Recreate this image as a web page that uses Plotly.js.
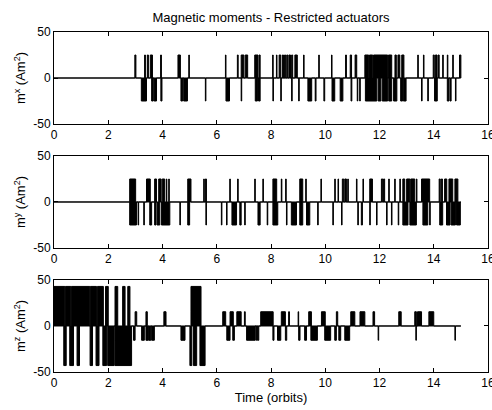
<!DOCTYPE html>
<html><head><meta charset="utf-8">
<script src="https://cdn.plot.ly/plotly-3.0.1.min.js"></script>
<style>html,body{margin:0;padding:0;background:#fff;} #chart{width:492px;height:410px;}</style>
</head><body><div id="chart"></div>
<script>
// Time span of the simulation (orbits)
const tEnd = 15;
const xTicks = [0, 2, 4, 6, 8, 10, 12, 14, 16];
const yTicks = [-50, 0, 50];

// Pulse levels (Am^2)
const mxLevel = 25;
const myLevel = 25;

// Pulses: [start (orbits), end (orbits)] at the +level / -level
const mxUp = [[2.98,3.02],[3.34,3.37],[3.44,3.48],[3.55,3.63],[3.93,3.96],[4.57,4.66],[4.97,4.99],[6.32,6.34],[6.76,6.79],[6.9,7.0],[7.05,7.14],[7.4,7.52],[7.56,7.6],[8.06,8.08],[8.2,8.22],[8.3,8.36],[8.42,8.46],[8.5,8.54],[8.58,8.62],[8.66,8.72],[8.76,8.8],[8.88,8.97],[9.2,9.22],[9.76,9.78],[10.23,10.25],[10.75,10.78],[10.92,10.97],[11.1,11.16],[11.46,11.6],[11.63,11.75],[11.78,12.3],[12.33,12.45],[12.57,12.62],[12.68,12.75],[12.82,12.9],[13.41,13.43],[13.62,13.64],[13.98,14.02],[14.06,14.12],[14.16,14.2],[14.33,14.35],[14.5,14.52],[14.7,14.72],[14.95,15.0]];
const mxDown = [[3.22,3.41],[3.6,3.66],[3.69,3.78],[3.94,3.98],[4.68,4.74],[4.78,4.92],[5.58,5.6],[6.34,6.47],[6.9,6.92],[7.42,7.5],[7.54,7.6],[8.07,8.09],[8.36,8.38],[8.76,8.78],[9.02,9.04],[9.36,9.5],[9.63,9.66],[9.95,9.98],[10.25,10.35],[10.55,10.65],[10.95,10.98],[11.18,11.2],[11.27,11.29],[11.48,11.9],[11.95,12.05],[12.1,12.3],[12.34,12.45],[12.52,12.64],[12.78,12.85],[12.88,12.98],[13.55,13.57],[13.78,13.8],[14.03,14.13],[14.5,14.56],[14.6,14.64],[14.8,14.82]];

const myUp = [[2.79,3.01],[3.41,3.55],[3.71,3.78],[3.86,3.95],[3.99,4.08],[4.14,4.16],[4.23,4.25],[4.93,5.05],[5.52,5.54],[5.58,5.62],[6.48,6.5],[6.77,6.79],[7.4,7.42],[7.7,7.72],[8.07,8.21],[8.38,8.4],[8.54,8.56],[9.06,9.17],[9.28,9.3],[9.84,9.86],[10.35,10.37],[10.47,10.49],[10.63,10.68],[10.72,10.78],[10.83,10.85],[11.15,11.17],[11.39,11.41],[11.64,11.74],[12.07,12.12],[12.15,12.19],[12.34,12.36],[12.56,12.58],[12.75,12.77],[12.86,12.93],[13.0,13.12],[13.15,13.3],[13.36,13.38],[13.55,13.85],[14.2,14.24],[14.28,14.32],[14.4,14.48],[14.56,14.7],[14.78,14.89]];
const myDown = [[2.79,3.04],[3.1,3.12],[3.31,3.33],[3.53,3.6],[3.71,3.76],[3.8,3.9],[3.96,4.27],[4.64,4.66],[4.93,5.0],[5.6,5.62],[6.17,6.19],[6.36,6.38],[6.56,6.73],[6.85,6.9],[7.03,7.05],[7.52,7.6],[7.86,7.88],[8.07,8.25],[8.57,8.59],[8.75,8.94],[9.06,9.17],[9.31,9.43],[9.72,9.74],[10.28,10.3],[10.6,10.62],[11.2,11.22],[11.33,11.37],[11.64,11.66],[11.89,11.91],[12.26,12.28],[12.44,12.46],[12.69,12.71],[12.86,13.05],[13.12,13.36],[13.6,13.78],[13.85,13.87],[14.22,14.33],[14.47,14.6],[14.64,14.8],[14.84,14.98]];

// m^z pulses: [start, end, level]
const mzUp = [[0,0.4,43],[0.42,0.62,43],[0.64,1.32,43],[1.34,1.57,43],[1.6,1.82,43],[1.9,2.0,43],[2.25,2.35,43],[2.53,2.62,43],[2.72,2.8,43],[2.99,3.05,15.5],[3.39,3.44,15.5],[4.05,4.13,15.5],[5.05,5.42,43],[6.22,6.33,15.5],[6.49,6.61,15.5],[6.74,6.9,15.5],[7.02,7.05,15.5],[7.62,8.08,15.5],[8.38,8.53,15.5],[8.65,8.68,15.5],[9.0,9.02,15.5],[9.39,9.49,15.5],[9.86,10.0,15.5],[10.41,10.46,15.5],[10.94,11.09,15.5],[11.28,11.46,15.5],[11.76,11.82,15.5],[12.71,12.8,15.5],[13.3,13.36,15.5],[13.4,13.55,15.5],[13.82,14.0,15.5]];
const mzDown = [[0.36,0.45,-43],[0.58,0.72,-43],[0.85,0.94,-43],[1.33,1.42,-43],[1.55,1.66,-43],[1.8,1.94,-43],[1.98,2.22,-43],[2.25,2.86,-43],[2.93,2.99,-15.5],[3.23,3.33,-15.5],[3.39,3.48,-15.5],[3.5,3.57,-15.5],[3.6,3.7,-15.5],[4.68,4.83,-15.5],[5.01,5.08,-43],[5.14,5.26,-43],[5.38,5.57,-43],[6.37,6.49,-15.5],[6.59,6.65,-15.5],[7.1,7.41,-15.5],[7.44,7.47,-15.5],[7.5,7.55,-15.5],[8.07,8.11,-15.5],[8.24,8.36,-15.5],[8.53,8.58,-15.5],[9.02,9.07,-15.5],[9.24,9.31,-15.5],[9.47,9.71,-15.5],[9.98,10.2,-15.5],[10.35,10.41,-15.5],[10.5,10.57,-15.5],[10.72,10.9,-15.5],[11.95,11.97,-15.5],[13.34,13.36,-15.5],[14.78,14.8,-15.5]];

function build(pulses, level) {
  const x = [0], y = [0];
  pulses.forEach(p => {
    const v = p.length > 2 ? p[2] : level;
    x.push(p[0], p[1]);
    y.push(v, 0);
  });
  x.push(tEnd); y.push(0);
  return {x, y};
}
function trace(pulses, level, xa, ya) {
  const d = build(pulses, level);
  return {type:'scatter', mode:'lines', x:d.x, y:d.y, xaxis:xa, yaxis:ya,
    line:{color:'#000', width:1, shape:'hv'}, fill:'tozeroy', fillcolor:'#000',
    hoverinfo:'skip', showlegend:false};
}

const data = [
  trace(mxUp, mxLevel, 'x', 'y'), trace(mxDown, -mxLevel, 'x', 'y'),
  trace(myUp, myLevel, 'x2', 'y2'), trace(myDown, -myLevel, 'x2', 'y2'),
  trace(mzUp, 0, 'x3', 'y3'), trace(mzDown, 0, 'x3', 'y3')
];

const FONT = 'Arial, "Liberation Sans", sans-serif';
function xAxis(anchor, title) {
  const a = {domain:[0,1], anchor:anchor, range:[0,16], tickvals:xTicks, ticktext:xTicks.map(String),
    ticks:'inside', ticklen:4, tickwidth:1, tickcolor:'#000', showline:true, linecolor:'#000', linewidth:1,
    mirror:'ticks', showgrid:false, zeroline:false, tickfont:{family:FONT, size:12, color:'#000'},
    ticklabeloverflow:'allow', fixedrange:true};
  if (title) a.title = {text:title, font:{family:FONT, size:13, color:'#000'}, standoff:3};
  return a;
}
function yAxis(anchor, dom, title) {
  return {domain:dom, anchor:anchor, range:[-50,50], tickvals:yTicks, ticktext:yTicks.map(String),
    ticks:'inside', ticklen:4, tickwidth:1, tickcolor:'#000', showline:true, linecolor:'#000', linewidth:1,
    mirror:'ticks', showgrid:false, zeroline:false, tickfont:{family:FONT, size:12, color:'#000'}, fixedrange:true,
    title:{text:title, font:{family:FONT, size:13, color:'#000'}, standoff:4}};
}

const layout = {
  width:492, height:410, paper_bgcolor:'#fff', plot_bgcolor:'#fff',
  margin:{l:54, r:4, t:32, b:38},
  font:{family:FONT, size:12, color:'#000'},
  title:{text:'Magnetic moments - Restricted actuators', font:{family:FONT, size:13, color:'#000'},
    x:0.5, xref:'paper', xanchor:'center', y:1-17/410, yref:'container', yanchor:'middle'},
  showlegend:false,
  xaxis: xAxis('y', null),
  xaxis2: xAxis('y2', null),
  xaxis3: xAxis('y3', 'Time (orbits)'),
  yaxis: yAxis('x', [0.7294, 1], 'm<sup>x</sup> (Am<sup>2</sup>)'),
  yaxis2: yAxis('x2', [0.3647, 0.6353], 'm<sup>y</sup> (Am<sup>2</sup>)'),
  yaxis3: yAxis('x3', [0, 0.2706], 'm<sup>z</sup> (Am<sup>2</sup>)')
};

Plotly.newPlot('chart', data, layout, {staticPlot:true, displayModeBar:false});
</script>
</body></html>
